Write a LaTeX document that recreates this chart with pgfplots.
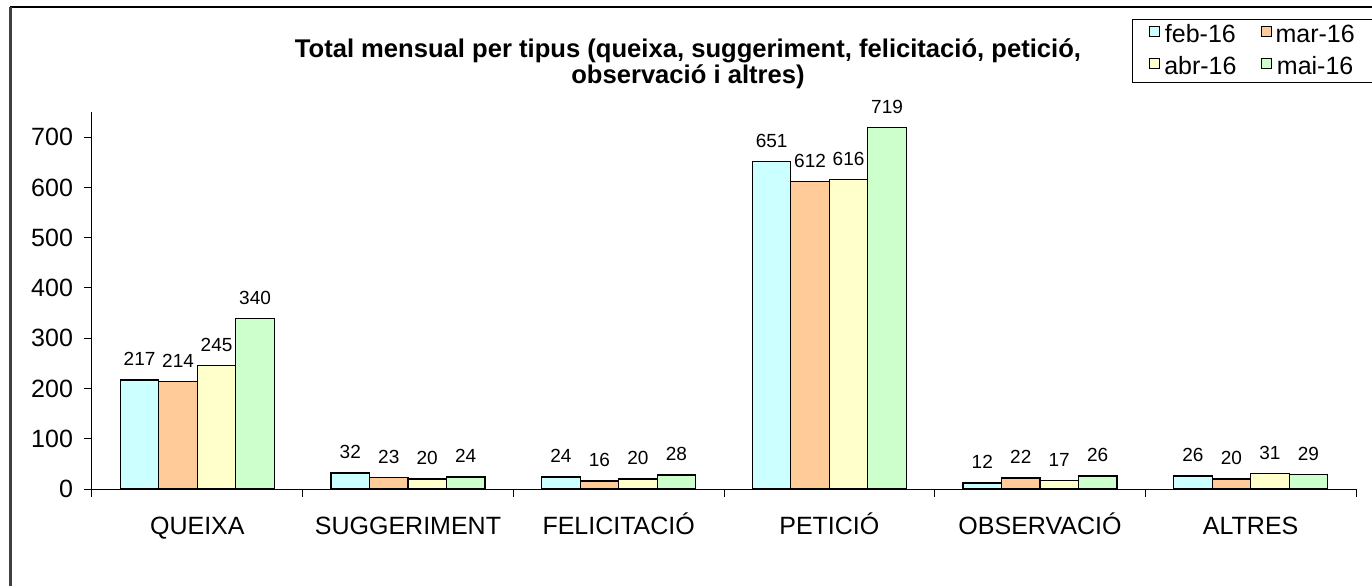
\documentclass[border=0pt]{standalone}
\usepackage{fontspec}
\setmainfont{Liberation Sans}
\usepackage{pgfplots}
\pgfplotsset{compat=1.18}
\definecolor{cFeb}{HTML}{CCFFFF}
\definecolor{cMar}{HTML}{FFCC99}
\definecolor{cAbr}{HTML}{FFFFCC}
\definecolor{cMai}{HTML}{CCFFCC}
\begin{document}
\begin{tikzpicture}
\useasboundingbox (0pt,0pt) rectangle (686pt,293pt);
\draw[black, line width=1pt] (5pt,289.5pt) -- (686pt,289.5pt);
\draw[black!75, line width=1.5pt] (5pt,0pt) -- (5pt,289.5pt);
\begin{axis}[
  at={(46pt,48.5pt)}, anchor=south west,
  scale only axis, width=632pt, height=188.5pt,
  xmin=-0.5, xmax=5.5, ymin=0, ymax=750,
  axis x line=bottom, axis y line=left,
  axis line style={-, line width=0.5pt, black},
  ytick={0,100,...,700},
  xtick={0,1,2,3,4,5},
  xticklabels={QUEIXA,SUGGERIMENT,FELICITACIÓ,PETICIÓ,OBSERVACIÓ,ALTRES},
  major x tick style={draw=none},
  minor xtick={-0.5,0.5,1.5,2.5,3.5,4.5,5.5},
  tick align=outside, major tick length=4pt, minor tick length=4pt,
  tick style={black, line width=0.5pt},
  /pgf/number format/assume math mode=true,
  yticklabel style={font=\fontsize{12.5}{15}\selectfont, xshift=-2pt},
  xticklabel style={font=\fontsize{12.5}{15}\selectfont, yshift=-6pt, text height=9.1pt},
  ybar=0pt, bar width=0.1827,
  nodes near coords,
  every node near coord/.append style={font=\fontsize{9.5}{11}\selectfont, anchor=base, yshift=7pt, black},
  legend columns=2,
  legend style={at={(1.016,1.247)}, anchor=north east, draw=black, line width=0.5pt,
    font=\fontsize{12.5}{15}\selectfont, inner ysep=0.5pt, inner xsep=8.5pt, row sep=1.5pt,
    /tikz/every even column/.append style={column sep=10pt}},
  legend image code/.code={\draw[#1, draw=black, line width=0.5pt] (0pt,-0.6pt) rectangle (5pt,4.4pt);},
  title={Total mensual per tipus (queixa, suggeriment, felicitació, petició,\\observació i altres)},
  title style={at={(0.4715,1.097)}, anchor=center, align=center, font=\bfseries\fontsize{12.8}{13}\selectfont},
]
\addplot[fill=cFeb, draw=black, line width=0.6pt] coordinates {(0,217) (1,32) (2,24) (3,651) (4,12) (5,26)};
\addplot[fill=cMar, draw=black, line width=0.6pt] coordinates {(0,214) (1,23) (2,16) (3,612) (4,22) (5,20)};
\addplot[fill=cAbr, draw=black, line width=0.6pt] coordinates {(0,245) (1,20) (2,20) (3,616) (4,17) (5,31)};
\addplot[fill=cMai, draw=black, line width=0.6pt] coordinates {(0,340) (1,24) (2,28) (3,719) (4,26) (5,29)};
\legend{feb-16, mar-16, abr-16, mai-16}
\end{axis}
\end{tikzpicture}
\end{document}
